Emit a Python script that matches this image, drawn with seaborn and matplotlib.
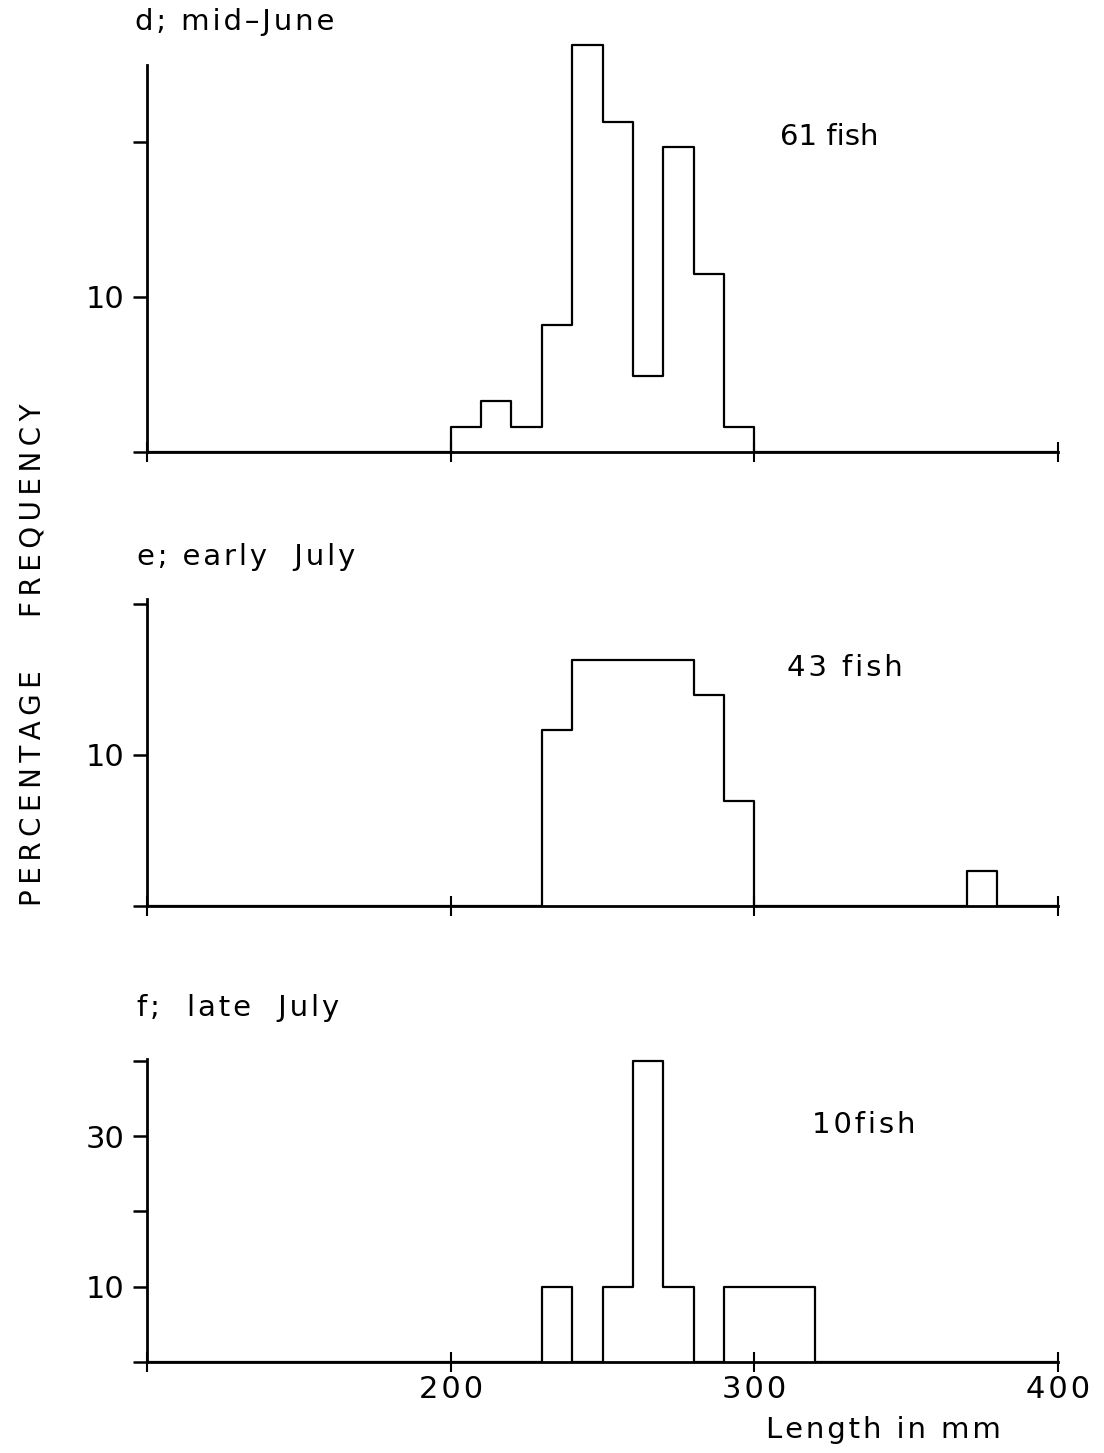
import numpy as np
import pandas as pd
import matplotlib
matplotlib.use("Agg")
import matplotlib.pyplot as plt
import seaborn as sns

# Length classes (mm), 10 mm bins from 100 to 400
bin_edges = list(range(100, 410, 10))
bin_starts = list(range(100, 400, 10))

# Number of fish per 10 mm length class for each sample
june_counts = {200: 1, 210: 2, 220: 1, 230: 5, 240: 16, 250: 13,
               260: 3, 270: 12, 280: 7, 290: 1}
early_july_counts = {230: 5, 240: 7, 250: 7, 260: 7, 270: 7, 280: 6,
                     290: 3, 370: 1}
late_july_counts = {230: 1, 250: 1, 260: 4, 270: 1, 290: 1, 300: 1, 310: 1}

panel_titles = ["d; mid\u2013June", "e; early  July", "f;  late  July"]
sample_labels = ["61 fish", "43 fish", "10fish"]
x_ticks = [100, 200, 300, 400]
x_tick_labels = ["", "200", "300", "400"]
y_ticks_d = [0, 10, 20]
y_tick_labels_d = ["", "10", ""]
y_ticks_e = [0, 10, 20]
y_tick_labels_e = ["", "10", ""]
y_ticks_f = [0, 10, 20, 30, 40]
y_tick_labels_f = ["", "10", "", "30", ""]

sns.set_style("ticks")
plt.rcParams["font.family"] = ["DejaVu Sans"]
plt.rcParams["text.color"] = "black"

HAIR = "\u200a"
THIN = "\u2009"


def tracked(s, sep=HAIR):
    """Widen letter spacing by putting a narrow space between characters."""
    return sep.join(s)


W, H = 1104, 1453
fig = plt.figure(figsize=(W / 100, H / 100), dpi=100)


def make_axes(bottom_px, px_per_unit, ymax):
    top_px = bottom_px - px_per_unit * ymax
    left = 147 / W
    width = (1058 - 147) / W
    return fig.add_axes([left, (H - bottom_px) / H, width, (bottom_px - top_px) / H])


scales = [15.5, 15.1, 7.53]
panels = [
    (june_counts, make_axes(452, scales[0], 27.5), 25, y_ticks_d, y_tick_labels_d),
    (early_july_counts, make_axes(906, scales[1], 20.8), 20.3, y_ticks_e, y_tick_labels_e),
    (late_july_counts, make_axes(1362, scales[2], 42), 40.3, y_ticks_f, y_tick_labels_f),
]

for i, (counts, ax, ytop, yt, ytl) in enumerate(panels):
    df = pd.DataFrame({
        "length": [s + 5 for s in bin_starts],
        "fish": [counts.get(s, 0) for s in bin_starts],
    })
    sns.histplot(data=df, x="length", weights="fish", bins=bin_edges,
                 stat="percent", element="step", fill=False,
                 color="black", linewidth=1.6, ax=ax)
    ax.set_xlim(100, 400)
    ax.set_ylim(0, ax.get_position().height * H / scales[i])
    sns.despine(ax=ax)
    ax.spines["left"].set_bounds(0, ytop)
    for sp in ("left", "bottom"):
        ax.spines[sp].set_linewidth(2.0)
        ax.spines[sp].set_color("black")
    ax.set_xticks(x_ticks)
    ax.set_yticks(yt)
    ax.set_yticklabels(ytl)
    ax.tick_params(axis="y", direction="out", length=10, width=1.8,
                   labelsize=22, pad=6, colors="black")
    ax.tick_params(axis="x", direction="inout", length=14, width=1.5,
                   labelsize=22, pad=2, colors="black")
    if i == 2:
        ax.set_xticklabels([tracked(t) for t in x_tick_labels])
    else:
        ax.set_xticklabels([""] * len(x_ticks))
    ax.set_xlabel("")
    ax.set_ylabel("")
    ax.patch.set_alpha(0)

# Panel titles and sample sizes
fs = 21
fig.text(135 / W, 1 - 22 / H, tracked(panel_titles[0]), fontsize=fs, va="center", ha="left")
fig.text(137 / W, 1 - 557 / H, tracked(panel_titles[1]), fontsize=fs, va="center", ha="left")
fig.text(137 / W, 1 - 1008 / H, tracked(panel_titles[2]), fontsize=fs, va="center", ha="left")
fig.text(780 / W, 1 - 137 / H, sample_labels[0], fontsize=fs, va="center", ha="left")
fig.text(787 / W, 1 - 668 / H, tracked(sample_labels[1]), fontsize=fs,
         va="center", ha="left")
fig.text(812 / W, 1 - 1125 / H, tracked(sample_labels[2]), fontsize=fs,
         va="center", ha="left")

# Axis titles
fig.text(33 / W, 1 - 655 / H, tracked("PERCENTAGE", THIN) + "      " + tracked("FREQUENCY", THIN),
         fontsize=20, rotation=90, va="center", ha="center")
fig.text(883 / W, 1 - 1430 / H, tracked("Length in mm"), fontsize=fs,
         va="center", ha="center")

fig.savefig("out.png", dpi=100, facecolor="white")
